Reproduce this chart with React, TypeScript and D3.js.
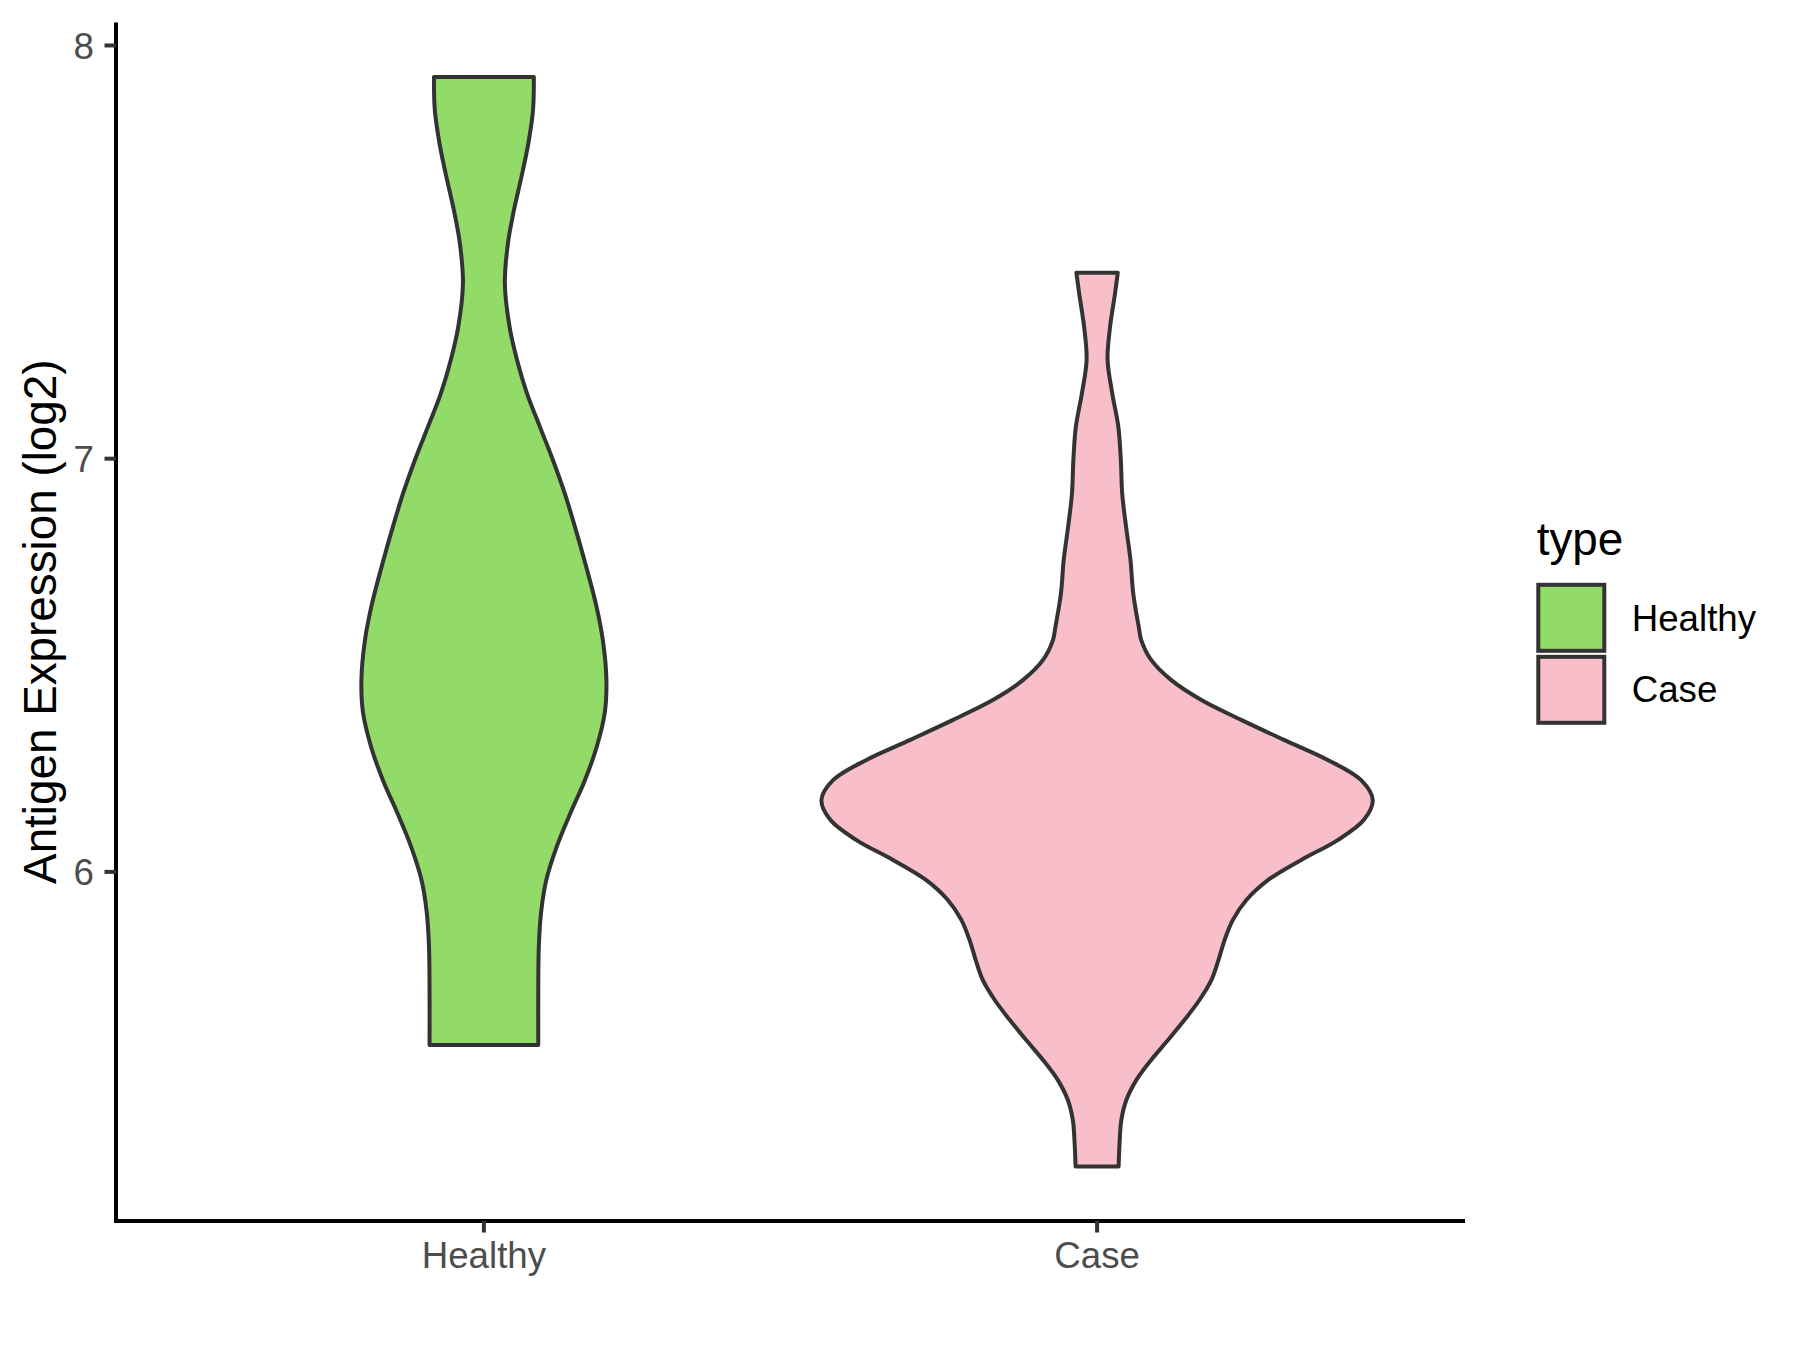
import React from "react";
import * as d3 from "d3";

// ---- data ----
const categories = ["Healthy", "Case"];
const fillColors = ["#93DB69", "#F8BFCA"];

// Violin outline for Healthy: expression value and relative density (width)
const healthyValues = [7.924, 7.844, 7.763, 7.682, 7.602, 7.521, 7.424, 7.319, 7.239, 7.158, 7.077, 6.997, 6.916, 6.835, 6.755, 6.642, 6.561, 6.464, 6.385, 6.303, 6.222, 6.143, 6.061, 5.98, 5.901, 5.819, 5.714, 5.581];
const healthyDensity = [0.181, 0.178, 0.161, 0.136, 0.109, 0.087, 0.076, 0.093, 0.12, 0.156, 0.203, 0.25, 0.293, 0.33, 0.364, 0.408, 0.431, 0.444, 0.438, 0.409, 0.366, 0.314, 0.264, 0.226, 0.207, 0.199, 0.197, 0.197];

// Violin outline for Case
const caseValues = [7.45, 7.4, 7.319, 7.239, 7.158, 7.077, 6.997, 6.916, 6.835, 6.755, 6.674, 6.593, 6.561, 6.513, 6.464, 6.416, 6.368, 6.319, 6.271, 6.222, 6.174, 6.126, 6.077, 6.029, 5.98, 5.932, 5.884, 5.835, 5.787, 5.738, 5.69, 5.642, 5.593, 5.545, 5.496, 5.448, 5.4, 5.351, 5.287];
const caseDensity = [0.075, 0.065, 0.047, 0.038, 0.055, 0.077, 0.086, 0.091, 0.105, 0.121, 0.131, 0.151, 0.16, 0.196, 0.269, 0.378, 0.522, 0.679, 0.836, 0.957, 0.999, 0.967, 0.872, 0.74, 0.619, 0.541, 0.492, 0.462, 0.44, 0.414, 0.371, 0.317, 0.257, 0.196, 0.142, 0.106, 0.088, 0.082, 0.078];

const yTicks = [6, 7, 8];
const yTitle = "Antigen Expression (log2)";
const legendTitle = "type";

const W = 1800;
const H = 1350;
const FONT = "'Liberation Sans', Arial, Helvetica, sans-serif";

export default function App() {
  const panelLeft = 116;
  const panelRight = 1465;
  const panelTop = 22.4;
  const panelBottom = 1221;

  const allVals = [...healthyValues, ...caseValues];
  const vmin = d3.min(allVals) as number;
  const vmax = d3.max(allVals) as number;
  const pad = (vmax - vmin) * 0.05;

  const y = d3.scaleLinear().domain([vmin - pad, vmax + pad]).range([panelBottom, panelTop]);
  const x = d3.scalePoint<string>().domain(categories).range([panelLeft, panelRight]).padding(0.6);
  const halfMax = 0.45 * x.step();

  const series = [
    { name: categories[0], vals: healthyValues, dens: healthyDensity, fill: fillColors[0] },
    { name: categories[1], vals: caseValues, dens: caseDensity, fill: fillColors[1] },
  ];

  const paths = series.map((s) => {
    const cx = x(s.name) as number;
    const pts = s.vals.map((v, i) => ({ v, d: s.dens[i] }));
    const area = d3
      .area<{ v: number; d: number }>()
      .y((p) => y(p.v))
      .x0((p) => cx - p.d * halfMax)
      .x1((p) => cx + p.d * halfMax)
      .curve(d3.curveCatmullRom.alpha(0.5));
    return { d: area(pts) as string, fill: s.fill, name: s.name };
  });

  const axisColor = "#000000";
  const tickColor = "#333333";
  const tickLabelColor = "#4D4D4D";

  return (
    <svg
      width={W}
      height={H}
      style={{ position: "absolute", left: 0, top: 0, background: "#fff" }}
      fontFamily={FONT}
    >
      <rect x={0} y={0} width={W} height={H} fill="#ffffff" />
      {paths.map((p) => (
        <path key={p.name} d={p.d} fill={p.fill} stroke="#333333" strokeWidth={4} strokeLinejoin="round" />
      ))}

      {/* axes */}
      <line x1={panelLeft} x2={panelLeft} y1={panelTop} y2={panelBottom + 2} stroke={axisColor} strokeWidth={4} />
      <line x1={panelLeft - 2} x2={panelRight} y1={panelBottom} y2={panelBottom} stroke={axisColor} strokeWidth={4} />

      {yTicks.map((t) => (
        <g key={t}>
          <line x1={panelLeft - 11.5} x2={panelLeft} y1={y(t)} y2={y(t)} stroke={tickColor} strokeWidth={4} />
          <text x={94} y={y(t)} dy="0.36em" textAnchor="end" fontSize={36.7} fill={tickLabelColor}>
            {t}
          </text>
        </g>
      ))}

      {categories.map((c) => (
        <g key={c}>
          <line x1={x(c) as number} x2={x(c) as number} y1={panelBottom} y2={panelBottom + 11.5} stroke={tickColor} strokeWidth={4} />
          <text x={x(c) as number} y={1268} textAnchor="middle" fontSize={36.7} fill={tickLabelColor}>
            {c}
          </text>
        </g>
      ))}

      <text
        transform={`translate(55.5, ${(panelTop + panelBottom) / 2}) rotate(-90)`}
        textAnchor="middle"
        fontSize={45.8}
        fill="#000"
      >
        {yTitle}
      </text>

      {/* legend */}
      <text x={1536.7} y={555} fontSize={45.8} fill="#000">
        {legendTitle}
      </text>
      {categories.map((c, i) => (
        <g key={c}>
          <rect x={1538.3} y={584.8 + i * 72} width={66} height={66} fill={fillColors[i]} stroke="#333333" strokeWidth={4} />
          <text x={1631.7} y={630.7 + i * 71} fontSize={36.7} fill="#000">
            {c}
          </text>
        </g>
      ))}
    </svg>
  );
}
